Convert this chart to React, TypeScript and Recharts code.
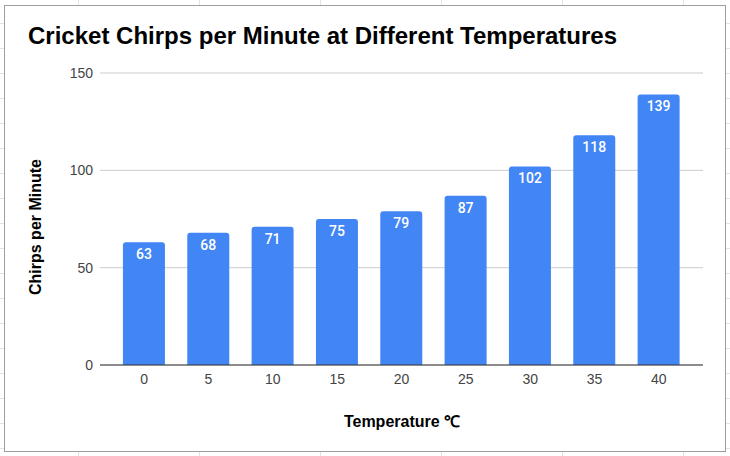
import { BarChart, Bar, XAxis, YAxis, CartesianGrid, LabelList } from 'recharts';

const temperatures = ['0', '5', '10', '15', '20', '25', '30', '35', '40'];
const chirps = [63, 68, 71, 75, 79, 87, 102, 118, 139];
const yTicks = [0, 50, 100, 150];

const data = temperatures.map((t, i) => ({ temp: t, chirps: chirps[i] }));

const BLUE = '#4285F4';
const FONT = 'Arial, "Liberation Sans", sans-serif';

export default function App() {
  return (
    <div
      style={{
        position: 'fixed', left: 0, top: 0, width: 730, height: 456, overflow: 'hidden',
        background: '#fff',
        backgroundImage:
          'linear-gradient(to right, #e3e3e3 1px, transparent 1px), linear-gradient(to bottom, #e3e3e3 1px, transparent 1px)',
        backgroundSize: '121px 25px',
        backgroundPosition: '78px 23px',
      }}
    >
      <div
        style={{
          position: 'absolute', left: 4, top: 5, width: 720, height: 445,
          background: '#fff', border: '1px solid #9e9e9e',
        }}
      />
      <div
        style={{
          position: 'absolute', left: 28, top: 22, fontFamily: FONT,
          fontSize: 24, fontWeight: 'bold', color: '#000', whiteSpace: 'nowrap',
        }}
      >
        Cricket Chirps per Minute at Different Temperatures
      </div>
      <div style={{ position: 'absolute', left: 0, top: 0 }}>
        <BarChart
          width={730} height={456} data={data}
          margin={{ top: 73, right: 27, bottom: 61, left: 40 }}
          barCategoryGap="17%"
        >
          <CartesianGrid vertical={false} stroke="#cccccc" />
          <XAxis
            dataKey="temp" height={30} padding={{ left: 12, right: 12 }}
            axisLine={{ stroke: '#333' }} tickLine={false} tickSize={0} tickMargin={9}
            tick={{ fill: '#444', fontSize: 14, fontFamily: FONT }}
            label={{
              content: () => (
                <text x={402} y={427} textAnchor="middle" fontFamily={FONT} fontSize={16} fontWeight="bold" fill="#000">
                  Temperature ℃
                </text>
              ),
            }}
          />
          <YAxis
            width={60} domain={[0, 150]} ticks={yTicks}
            axisLine={false} tickLine={false} tickSize={0} tickMargin={7}
            tick={{ fill: '#444', fontSize: 14, fontFamily: FONT }}
            label={{
              content: () => (
                <text x={41} y={227} transform="rotate(-90 41 227)" textAnchor="middle" fontFamily={FONT} fontSize={16} fontWeight="bold" fill="#000">
                  Chirps per Minute
                </text>
              ),
            }}
          />
          <Bar dataKey="chirps" fill={BLUE} radius={[3, 3, 0, 0]} isAnimationActive={false}>
            <LabelList
              dataKey="chirps" position="insideTop" offset={7}
              fill="#fff" fontSize={14} fontWeight={500} fontFamily="Roboto, sans-serif"
            />
          </Bar>
        </BarChart>
      </div>
    </div>
  );
}
